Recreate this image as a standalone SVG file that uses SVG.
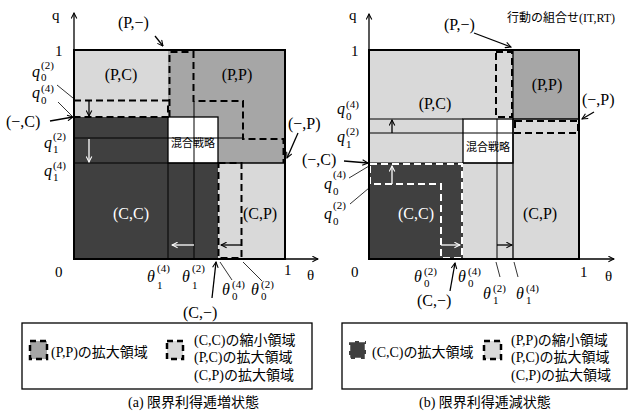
<svg xmlns="http://www.w3.org/2000/svg" width="637" height="412" viewBox="0 0 637 412">
<defs>
<marker id="ah" viewBox="0 0 10 10" refX="9" refY="5" markerWidth="7" markerHeight="7" orient="auto" markerUnits="userSpaceOnUse"><path d="M1,1 L9,5 L1,9" fill="none" stroke="#000" stroke-width="1.5"/></marker>
<marker id="ahw" viewBox="0 0 10 10" refX="9" refY="5" markerWidth="7" markerHeight="7" orient="auto" markerUnits="userSpaceOnUse"><path d="M1,1 L9,5 L1,9" fill="none" stroke="#fff" stroke-width="1.5"/></marker>
</defs>
<style>
.lt{fill:#d9d9d9}
.md{fill:#a6a6a6}
.dk{fill:#404040}
.frame{fill:none;stroke:#000;stroke-width:2}
.bd{fill:none;stroke:#000;stroke-width:1.3}
.thin{fill:none;stroke:#000;stroke-width:1}
.dash{fill:none;stroke:#000;stroke-width:2;stroke-dasharray:7 4}
.dashw{fill:none;stroke:#fff;stroke-width:2;stroke-dasharray:7 4}
.ax{fill:none;stroke:#000;stroke-width:1.3}
.ldr{fill:none;stroke:#000;stroke-width:0.8}
.arr{fill:none;stroke:#000;stroke-width:1.3}
.arrw{fill:none;stroke:#fff;stroke-width:1.3}
text{font-family:"Liberation Serif","Noto Sans CJK JP",serif;fill:#000}
.rl{font-size:16px}
.wt{fill:#fff}
.mi{font-style:italic;font-size:16px}
.sc{font-size:11px}
.num{font-size:15px}
.jp{font-family:"Noto Sans CJK JP",sans-serif;font-size:11px}
.lg{font-size:14px}
.cap{font-size:14px}
</style>

<!-- ===== Diagram (a) ===== -->
<g id="a-regions">
<rect class="md" x="74" y="50" width="211" height="209"/>
<rect class="lt" x="74" y="50" width="94" height="67"/>
<rect class="dk" x="74" y="117" width="144" height="142"/>
<rect class="lt" x="218" y="163" width="67" height="96"/>
</g>
<g id="a-mixed">
<rect x="168" y="117" width="50" height="46" fill="#fff" stroke="#000" stroke-width="1.3"/>
<text class="jp" x="193" y="147" text-anchor="middle">混合戦略</text>
</g>
<g id="a-lines">
<line class="thin" x1="74" y1="138" x2="243" y2="138"/>
<line class="thin" x1="74" y1="163" x2="218" y2="163"/>
<line class="thin" x1="168" y1="163" x2="168" y2="259"/>
<line class="thin" x1="194" y1="101" x2="194" y2="259"/>
<line class="bd" x1="218" y1="163" x2="285" y2="163"/>
<path class="dash" d="M74,100.5 H168 V117 H74"/>
<path class="dash" d="M169.5,117 V52 H193.5 V101 H243 V139 H283.5 V163"/>
<path class="dash" d="M218.5,163 H241.5 V258 H218.5 Z"/>
<rect class="frame" x="74" y="50" width="211" height="209"/>
</g>
<g id="a-arrows">
<line class="arr" x1="89" y1="101" x2="89" y2="116" marker-end="url(#ah)"/>
<line class="arrw" x1="89" y1="139" x2="89" y2="162" marker-end="url(#ahw)"/>
<line class="arrw" x1="194" y1="245" x2="172" y2="245" marker-end="url(#ahw)"/>
<path class="arr" d="M241,245 H221" marker-end="url(#ah)"/>
</g>
<g id="a-labels">
<text class="rl" x="121" y="80" text-anchor="middle">(P,C)</text>
<text class="rl" x="237" y="80" text-anchor="middle">(P,P)</text>
<text class="rl wt" x="131" y="219" text-anchor="middle">(C,C)</text>
<text class="rl" x="260" y="219" text-anchor="middle">(C,P)</text>
</g>
<g id="a-axes">
<line class="ax" x1="74" y1="259" x2="74" y2="13" marker-end="url(#ah)"/>
<line class="ax" x1="74" y1="259" x2="318" y2="259" marker-end="url(#ah)"/>
<text class="num" x="52" y="20">q</text>
<text class="num" x="55" y="56">1</text>
<text class="num" x="55" y="277">0</text>
<text class="num" x="284" y="275">1</text>
<text class="num" x="307" y="280">θ</text>
</g>
<g id="a-annot">
<text class="rl" x="118" y="28">(P,−)</text>
<line class="arr" x1="155" y1="36" x2="163" y2="46" marker-end="url(#ah)"/>
<text class="rl" x="6" y="127">(−,C)</text>
<line class="arr" x1="50" y1="121" x2="73" y2="117" marker-end="url(#ah)"/>
<text class="rl" x="288" y="129">(−,P)</text>
<line class="arr" x1="298" y1="133" x2="287" y2="158" marker-end="url(#ah)"/>
<text class="rl" x="183" y="318">(C,−)</text>
<line class="arr" x1="212" y1="298" x2="216" y2="262" marker-end="url(#ah)"/>
<line class="ldr" x1="57" y1="85" x2="73" y2="98"/>
<line class="ldr" x1="58" y1="102" x2="72" y2="116"/>
<line class="ldr" x1="220" y1="262" x2="232" y2="280"/>
<line class="ldr" x1="243" y1="262" x2="262" y2="281"/>
<text class="mi" x="32" y="77">q</text><text class="sc" x="41" y="69">(2)</text><text class="sc" x="41" y="81">0</text>
<text class="mi" x="32" y="98">q</text><text class="sc" x="41" y="92">(4)</text><text class="sc" x="41" y="104">0</text>
<text class="mi" x="44" y="148">q</text><text class="sc" x="53" y="140">(2)</text><text class="sc" x="53" y="153">1</text>
<text class="mi" x="44" y="176">q</text><text class="sc" x="53" y="169">(4)</text><text class="sc" x="53" y="181">1</text>
<text class="mi" x="147" y="282">θ</text><text class="sc" x="157" y="272">(4)</text><text class="sc" x="157" y="289">1</text>
<text class="mi" x="182" y="282">θ</text><text class="sc" x="192" y="272">(2)</text><text class="sc" x="192" y="289">1</text>
<text class="mi" x="222" y="295">θ</text><text class="sc" x="232" y="288">(4)</text><text class="sc" x="232" y="300">0</text>
<text class="mi" x="251" y="295">θ</text><text class="sc" x="261" y="288">(2)</text><text class="sc" x="261" y="300">0</text>
</g>
<g id="a-legend">
<rect x="22" y="323" width="290" height="66" fill="#fff" stroke="#000" stroke-width="1.3"/>
<rect x="30" y="341" width="17" height="18" fill="#a6a6a6" stroke="#000" stroke-width="2.5" stroke-dasharray="6 4"/>
<text class="lg" x="51" y="357">(P,P)の拡大領域</text>
<rect x="167" y="341" width="16" height="18" fill="#d9d9d9" stroke="#000" stroke-width="2.5" stroke-dasharray="6 4"/>
<text class="lg" x="194" y="345">(C,C)の縮小領域</text>
<text class="lg" x="194" y="362">(P,C)の拡大領域</text>
<text class="lg" x="194" y="380">(C,P)の拡大領域</text>
</g>
<text class="cap" x="128" y="407">(a)  限界利得逓増状態</text>

<!-- ===== Diagram (b) ===== -->
<g id="b-regions">
<rect class="lt" x="369" y="50" width="210" height="209"/>
<rect class="md" x="513" y="50" width="66" height="69"/>
<rect class="dk" x="369" y="163" width="94" height="96"/>
</g>
<g id="b-mixed">
<rect x="463" y="119" width="50" height="44" fill="#fff" stroke="#000" stroke-width="1.3"/>
<text class="jp" x="488" y="151" text-anchor="middle">混合戦略</text>
</g>
<g id="b-lines">
<line class="thin" x1="369" y1="119" x2="463" y2="119"/>
<line class="thin" x1="369" y1="133" x2="513" y2="133"/>
<line class="thin" x1="369" y1="163" x2="513" y2="163"/>
<line class="thin" x1="497" y1="119" x2="497" y2="259"/>
<line class="bd" x1="513" y1="50" x2="513" y2="259"/>
<line class="bd" x1="513" y1="119" x2="579" y2="119"/>
<path class="dash" d="M496,52 H512 V117 H496 Z"/>
<path class="dash" d="M515,121 H578 V133 H515 Z"/>
<path class="dashw" d="M370,164 H462 V258 H441 V184 H370 Z"/>
<rect class="frame" x="369" y="50" width="210" height="209"/>
</g>
<g id="b-arrows">
<line class="arr" x1="392" y1="133" x2="392" y2="120" marker-end="url(#ah)"/>
<line class="arrw" x1="392" y1="184" x2="392" y2="166" marker-end="url(#ahw)"/>
<line class="arrw" x1="441" y1="245" x2="460" y2="245" marker-end="url(#ahw)"/>
<line class="arr" x1="497" y1="245" x2="512" y2="245" marker-end="url(#ah)"/>
</g>
<g id="b-labels">
<text class="rl" x="435" y="109" text-anchor="middle">(P,C)</text>
<text class="rl" x="547" y="90" text-anchor="middle">(P,P)</text>
<text class="rl wt" x="416" y="219" text-anchor="middle">(C,C)</text>
<text class="rl" x="540" y="219" text-anchor="middle">(C,P)</text>
</g>
<g id="b-axes">
<line class="ax" x1="369" y1="259" x2="369" y2="14" marker-end="url(#ah)"/>
<line class="ax" x1="369" y1="259" x2="614" y2="259" marker-end="url(#ah)"/>
<text class="num" x="349" y="20">q</text>
<text class="num" x="351" y="56">1</text>
<text class="num" x="351" y="277">0</text>
<text class="num" x="580" y="277">1</text>
<text class="num" x="605" y="281">θ</text>
<text x="507" y="22" font-family="Noto Sans CJK JP, sans-serif" font-size="12">行動の組合せ(IT,RT)</text>
</g>
<g id="b-annot">
<text class="rl" x="444" y="30">(P,−)</text>
<line class="arr" x1="474" y1="33" x2="511" y2="47" marker-end="url(#ah)"/>
<text class="rl" x="582" y="105">(−,P)</text>
<line class="arr" x1="594" y1="112" x2="582" y2="119" marker-end="url(#ah)"/>
<text class="rl" x="302" y="165">(−,C)</text>
<line class="arr" x1="344" y1="161" x2="368" y2="163" marker-end="url(#ah)"/>
<text class="rl" x="417" y="306">(C,−)</text>
<line class="arr" x1="450" y1="291" x2="455" y2="263" marker-end="url(#ah)"/>
<line class="ldr" x1="349" y1="178" x2="369" y2="166"/>
<line class="ldr" x1="350" y1="204" x2="369" y2="188"/>
<line class="ldr" x1="496" y1="262" x2="500" y2="277"/>
<line class="ldr" x1="514" y1="262" x2="518" y2="277"/>
<text class="mi" x="337" y="114">q</text><text class="sc" x="346" y="108">(4)</text><text class="sc" x="346" y="120">0</text>
<text class="mi" x="337" y="142">q</text><text class="sc" x="346" y="135">(2)</text><text class="sc" x="346" y="148">1</text>
<text class="mi" x="324" y="189">q</text><text class="sc" x="333" y="178">(4)</text><text class="sc" x="333" y="195">0</text>
<text class="mi" x="324" y="219">q</text><text class="sc" x="333" y="209">(2)</text><text class="sc" x="333" y="225">0</text>
<text class="mi" x="414" y="282">θ</text><text class="sc" x="424" y="275">(2)</text><text class="sc" x="424" y="287">0</text>
<text class="mi" x="458" y="282">θ</text><text class="sc" x="468" y="275">(4)</text><text class="sc" x="468" y="287">0</text>
<text class="mi" x="483" y="299">θ</text><text class="sc" x="493" y="292">(2)</text><text class="sc" x="493" y="304">1</text>
<text class="mi" x="516" y="299">θ</text><text class="sc" x="526" y="292">(4)</text><text class="sc" x="526" y="304">1</text>
</g>
<g id="b-legend">
<rect x="342" y="323" width="285" height="66" fill="#fff" stroke="#000" stroke-width="1.3"/>
<rect x="349" y="341" width="17" height="18" fill="#404040" stroke="#fff" stroke-width="2.5" stroke-dasharray="6 4"/>
<text class="lg" x="372" y="357">(C,C)の拡大領域</text>
<rect x="484" y="341" width="17" height="18" fill="#d9d9d9" stroke="#000" stroke-width="2.5" stroke-dasharray="6 4"/>
<text class="lg" x="511" y="345">(P,P)の縮小領域</text>
<text class="lg" x="511" y="362">(P,C)の拡大領域</text>
<text class="lg" x="511" y="380">(C,P)の拡大領域</text>
</g>
<text class="cap" x="419" y="407">(b)  限界利得逓減状態</text>
</svg>
